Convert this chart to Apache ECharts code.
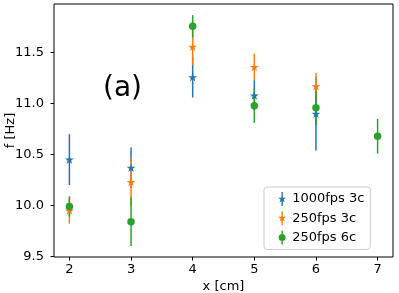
<!DOCTYPE html>
<html>
<head>
<meta charset="utf-8">
<script src="https://cdn.jsdelivr.net/npm/echarts@6/dist/echarts.min.js"></script>
<style>html,body{margin:0;padding:0;background:#fff;}#c{width:399px;height:293px;}</style>
</head>
<body>
<div id="c"></div>
<script>
// ---- data ----
const xPositions = [2, 3, 4, 5, 6, 7];
const seriesNames = ['1000fps 3c', '250fps 3c', '250fps 6c'];
const fps1000_3c = [10.45, 10.37, 11.26, 11.08, 10.90, null];
const fps1000_3c_err = [0.25, 0.20, 0.20, 0.15, 0.36, null];
const fps250_3c = [9.95, 10.23, 11.56, 11.36, 11.17, null];
const fps250_3c_err = [0.13, 0.23, 0.18, 0.13, 0.13, null];
const fps250_6c = [9.99, 9.84, 11.76, 10.98, 10.96, 10.68];
const fps250_6c_err = [0.10, 0.24, 0.11, 0.17, 0.17, 0.17];
const xTicks = [2, 3, 4, 5, 6, 7];
const yTicks = [9.5, 10.0, 10.5, 11.0, 11.5];
const colors = ['#1f77b4', '#ff7f0e', '#2ca02c'];

// ---- marker shapes ----
function starPath(cx, cy, R, r) {
  let s = '';
  for (let i = 0; i < 10; i++) {
    const a = (-90 + 36 * i) * Math.PI / 180;
    const rad = i % 2 ? r : R;
    s += (i ? 'L' : 'M') + (cx + rad * Math.cos(a)).toFixed(2) + ',' + (cy + rad * Math.sin(a)).toFixed(2);
  }
  return s + 'Z';
}
const starSymbol = 'path://' + starPath(50, 50, 50, 19.1);
const legendStar = 'path://M45,0L55,0L55,100L45,100Z' + starPath(50, 50, 31, 11.8);
const legendCircle = 'path://M45,0L55,0L55,100L45,100Z M50,25 A25,25 0 1,1 50,75 A25,25 0 1,1 50,25Z';

function pts(vals) {
  return xPositions.map((x, i) => vals[i] == null ? null : [x, vals[i]]).filter(d => d);
}
function errs(vals, e) {
  return xPositions.map((x, i) => vals[i] == null ? null : [x, vals[i] - e[i], vals[i] + e[i]]).filter(d => d);
}
function errSeries(name, vals, e, color) {
  return {
    type: 'custom', name: name, data: errs(vals, e),
    encode: { x: 0, y: [1, 2] },
    renderItem: function (params, api) {
      const a = api.coord([api.value(0), api.value(1)]);
      const b = api.coord([api.value(0), api.value(2)]);
      return { type: 'line', shape: { x1: a[0], y1: a[1], x2: b[0], y2: b[1] },
               style: { stroke: color, lineWidth: 1.5 } };
    },
    silent: true
  };
}
function markSeries(name, vals, color, symbol, size) {
  return { type: 'scatter', name: name, data: pts(vals), symbol: symbol, symbolSize: size,
           symbolKeepAspect: true, itemStyle: { color: color, opacity: 1 }, silent: true };
}

const fontFam = 'DejaVu Sans';
const fs = 13;
const chart = echarts.init(document.getElementById('c'), null, { renderer: 'canvas' });
chart.setOption({
  animation: false,
  backgroundColor: '#fff',
  textStyle: { fontFamily: fontFam },
  grid: { left: 54, right: 6, top: 4, bottom: 36, containLabel: false, outerBoundsMode: 'none',
          show: true, borderColor: '#000', borderWidth: 1, backgroundColor: 'transparent' },
  xAxis: {
    type: 'value', min: 1.75, max: 7.25,
    name: 'x [cm]', nameLocation: 'middle', nameGap: 23, nameMoveOverlap: false,
    nameTextStyle: { color: '#000', fontSize: fs, fontFamily: fontFam },
    axisLine: { show: false },
    splitLine: { show: false },
    axisTick: { show: true, length: 3.5, lineStyle: { color: '#000', width: 1 }, customValues: xTicks },
    axisLabel: { color: '#000', fontSize: fs, fontFamily: fontFam, margin: 6, customValues: xTicks, formatter: v => String(v) }
  },
  yAxis: {
    type: 'value', min: 9.493, max: 11.979,
    name: 'f [Hz]', nameLocation: 'middle', nameGap: 37, nameMoveOverlap: false,
    nameTextStyle: { color: '#000', fontSize: fs, fontFamily: fontFam },
    axisLine: { show: false },
    splitLine: { show: false },
    axisTick: { show: true, length: 3.5, lineStyle: { color: '#000', width: 1 }, customValues: yTicks },
    axisLabel: { color: '#000', fontSize: fs, fontFamily: fontFam, margin: 10, customValues: yTicks, formatter: v => v.toFixed(1) }
  },
  legend: {
    orient: 'vertical', left: 264, top: 187,
    padding: [5, 6, 5, 14], itemGap: 5.2, itemWidth: 10, itemHeight: 14, itemTextGap: 19,
    backgroundColor: 'rgba(255,255,255,0.8)', borderColor: '#cccccc', borderWidth: 1, borderRadius: 3,
    textStyle: { color: '#000', fontSize: fs, fontFamily: fontFam, lineHeight: 14 },
    data: [
      { name: seriesNames[0], icon: legendStar, itemStyle: { color: colors[0] } },
      { name: seriesNames[1], icon: legendStar, itemStyle: { color: colors[1] } },
      { name: seriesNames[2], icon: legendCircle, itemStyle: { color: colors[2] } }
    ]
  },
  graphic: [{
    type: 'text', left: 103, top: 75,
    style: { text: '(a)', fontSize: 28, fontFamily: fontFam, fill: '#000' }
  }],
  series: [
    errSeries(seriesNames[0], fps1000_3c, fps1000_3c_err, colors[0]),
    markSeries(seriesNames[0], fps1000_3c, colors[0], starSymbol, 9),
    errSeries(seriesNames[1], fps250_3c, fps250_3c_err, colors[1]),
    markSeries(seriesNames[1], fps250_3c, colors[1], starSymbol, 9),
    errSeries(seriesNames[2], fps250_6c, fps250_6c_err, colors[2]),
    markSeries(seriesNames[2], fps250_6c, colors[2], 'circle', 7.5)
  ]
});
</script>
</body>
</html>
